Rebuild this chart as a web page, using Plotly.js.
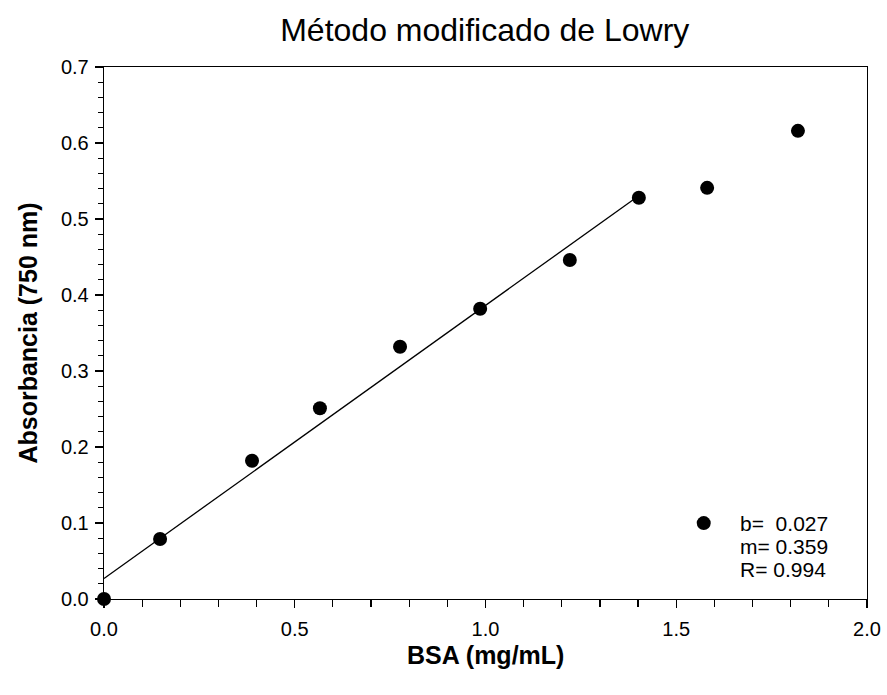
<!DOCTYPE html>
<html>
<head>
<meta charset="utf-8">
<script src="https://cdn.plot.ly/plotly-3.0.1.min.js"></script>
<style>html,body{margin:0;padding:0;background:#fff;}#chart{width:887px;height:695px;}</style>
</head>
<body>
<div id="chart"></div>
<script>
// Data
const bsa = [0.0, 0.147, 0.388, 0.566, 0.776, 0.986, 1.221, 1.402, 1.581, 1.819];
const absorbancia = [0.0, 0.079, 0.182, 0.251, 0.332, 0.382, 0.446, 0.528, 0.541, 0.616];
const fitX = [0.0, 1.40];
const fitY = [0.027, 0.530];
const statLines = ["b=  0.027", "m= 0.359", "R= 0.994"];
const xTitle = "BSA (mg/mL)";
const xTicks = [0.0, 0.5, 1.0, 1.5, 2.0];
const xTickLabels = ["0.0", "0.5", "1.0", "1.5", "2.0"];
const yTicks = [0.0, 0.1, 0.2, 0.3, 0.4, 0.5, 0.6, 0.7];
const yTickLabels = ["0.0", "0.1", "0.2", "0.3", "0.4", "0.5", "0.6", "0.7"];

const font = "Liberation Sans, Arial, sans-serif";

const traces = [
  {
    x: fitX, y: fitY, mode: "lines", type: "scatter",
    line: {color: "#000", width: 1.3}, showlegend: false, hoverinfo: "skip"
  },
  {
    x: bsa, y: absorbancia, mode: "markers", type: "scatter",
    marker: {color: "#000", size: 14},
    name: "\u00a0", showlegend: true, cliponaxis: false
  }
];

const axisCommon = {
  showgrid: false, zeroline: false, showline: true, linecolor: "#000", linewidth: 1.3,
  mirror: true, ticks: "outside", ticklen: 8, tickwidth: 1.2, tickcolor: "#000",
  tickfont: {family: font, size: 20, color: "#000"}
};

const statY = [0.142, 0.099, 0.056];
const annotations = statLines.map((t, i) => ({
  xref: "paper", yref: "paper", x: 0.831, y: statY[i], xanchor: "left", yanchor: "middle",
  text: t, showarrow: false, font: {family: font, size: 21, color: "#000"}
}));
annotations.push({
  xref: "paper", yref: "paper", x: 0.5, y: -0.106, xanchor: "center", yanchor: "middle",
  text: "<b>" + xTitle + "</b>", showarrow: false, font: {family: font, size: 25, color: "#000"}
});

const layout = {
  width: 887, height: 695,
  margin: {l: 104, r: 20, t: 67, b: 96},
  paper_bgcolor: "#fff", plot_bgcolor: "#fff",
  title: {text: "Método modificado de Lowry", font: {family: font, size: 32, color: "#000"},
          x: 0.5465, xanchor: "center", y: 0.957, yanchor: "middle"},
  xaxis: Object.assign({}, axisCommon, {
    range: [0, 2.0], tickvals: xTicks, ticktext: xTickLabels,
    ticklabelstandoff: 4,
    minor: {dtick: 0.1, tick0: 0, ticks: "outside", ticklen: 7, tickwidth: 1.2, tickcolor: "#000"}
  }),
  yaxis: Object.assign({}, axisCommon, {
    range: [0, 0.7], tickvals: yTicks, ticktext: yTickLabels,
    ticklabelstandoff: 2,
    minor: {dtick: 0.02, tick0: 0, ticks: "outside", ticklen: 5, tickwidth: 1.2, tickcolor: "#000"},
    title: {text: "<b>Absorbancia (750 nm)</b>", font: {family: font, size: 25, color: "#000"}, standoff: 16}
  }),
  annotations: annotations,
  legend: {
    x: 0.7598, y: 0.142, xanchor: "left", yanchor: "middle",
    bgcolor: "rgba(0,0,0,0)", borderwidth: 0,
    font: {family: font, size: 21, color: "#000"}
  }
};

Plotly.newPlot("chart", traces, layout, {displayModeBar: false, staticPlot: true});
</script>
</body>
</html>
